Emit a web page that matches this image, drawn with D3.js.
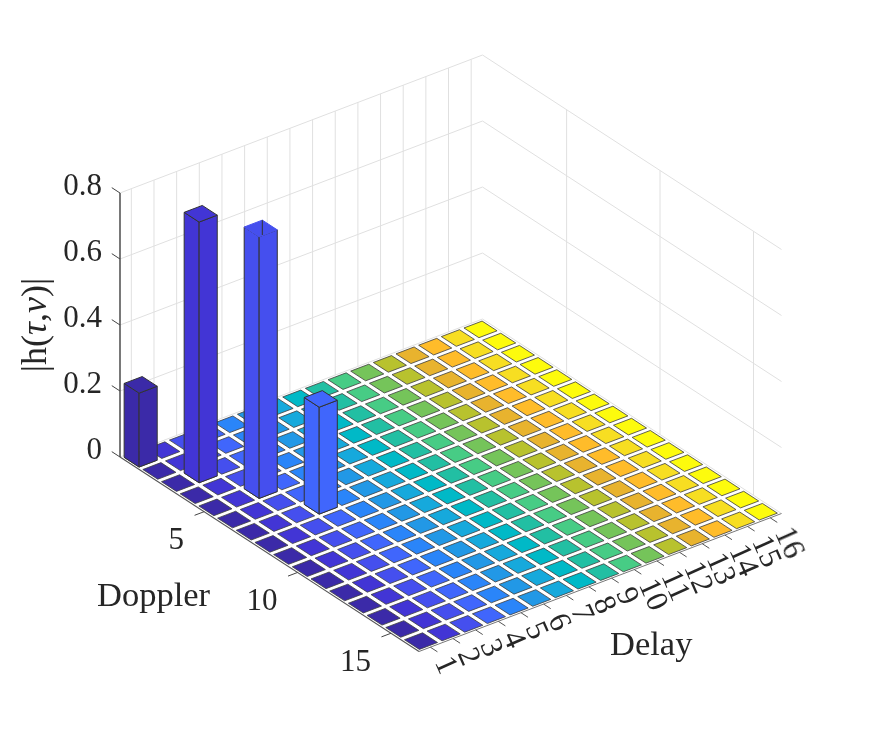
<!DOCTYPE html>
<html><head><meta charset="utf-8">
<style>
html,body{margin:0;padding:0;background:#fff}
svg{display:block}
text{font-family:"Liberation Serif","Times New Roman",serif;fill:#262626}
</style>
<script src="https://cdn.jsdelivr.net/npm/d3@7"></script>
</head><body>
<svg id="c" width="872" height="733"></svg>
<script>
const delayTicks=[1,2,3,4,5,6,7,8,9,10,11,12,13,14,15,16];
const dopplerValues=[1,2,3,4,5,6,7,8,9,10,11,12,13,14,15,16];
const dopplerTicks=[5,10,15];
const zTicks=[0,0.2,0.4,0.6,0.8];
const zTickLabels=["0","0.2","0.4","0.6","0.8"];
const barDelay=[1,2,3,4];
const barDoppler=[1,3,5,7];
const barHeight=[0.224,0.79,0.793,0.324];
const delayColors=["#3a2ca8","#4236d5","#4550ee","#3f66fc","#2b85f9","#2198e6","#17a9dc","#01b9c7","#22bfa3","#47cc85","#75c45a","#b8c22e","#e8b32d","#ffbc2c","#f7de22","#fdfb0e"];

const svg=d3.select("#c");
const blur=svg.append("defs").append("filter").attr("id","soft").attr("filterUnits","userSpaceOnUse")
  .attr("x",0).attr("y",0).attr("width",872).attr("height",733);
blur.append("feGaussianBlur").attr("stdDeviation",0.45);
const root=svg.append("g").attr("filter","url(#soft)");

// projection built from linear scales
const dX=d3.scaleLinear().domain([0.5,16.5]).range([0,362.5]);
const dY=d3.scaleLinear().domain([0.5,16.5]).range([0,-138]);
const vX=d3.scaleLinear().domain([0.5,16.5]).range([120,419]);
const vY=d3.scaleLinear().domain([0.5,16.5]).range([457,651.5]);
const zY=d3.scaleLinear().domain([0,0.8]).range([0,-264]);
const P=(u,v,z=0)=>[dX(u)+vX(v),dY(u)+vY(v)+zY(z)];
const line=d3.line();
const uMin=0.5,uMax=16.5,vMin=0.5,vMax=16.5,zMax=0.8;

const grid=root.append("g").attr("fill","none").attr("stroke","#e0e0e0").attr("stroke-width",1);
zTicks.forEach(z=>{
  grid.append("path").attr("d",line([P(uMin,vMin,z),P(uMax,vMin,z),P(uMax,vMax,z)]));
});
delayTicks.forEach(u=>grid.append("path").attr("d",line([P(u,vMin,0),P(u,vMin,zMax)])));
dopplerTicks.forEach(v=>grid.append("path").attr("d",line([P(uMax,v,0),P(uMax,v,zMax)])));

// floor cells
const half=0.4;
const cellG=root.append("g").attr("stroke","#3c3c3c").attr("stroke-width",0.8).attr("stroke-linejoin","round");
delayTicks.forEach((u,i)=>dopplerValues.forEach(v=>{
  cellG.append("path").attr("fill",delayColors[i])
   .attr("d",line([P(u-half,v-half),P(u+half,v-half),P(u+half,v+half),P(u-half,v+half)])+"Z");
}));

// axes
const axes=root.append("g").attr("fill","none");
axes.append("path").attr("stroke","#222").attr("stroke-width",1.2).attr("d",line([P(uMin,vMin,0),P(uMin,vMin,zMax)]));
axes.append("path").attr("stroke","#555").attr("stroke-width",1.1).attr("d",line([P(uMin,vMin,0),P(uMin,vMax,0)]));
axes.append("path").attr("stroke","#777").attr("stroke-width",1).attr("d",line([P(uMin,vMax,0),P(uMax,vMax,0)]));
zTicks.forEach(z=>axes.append("path").attr("stroke","#444").attr("stroke-width",1).attr("d",line([P(uMin,vMin,z),P(uMin,vMin-0.44,z)])));
dopplerTicks.forEach(v=>axes.append("path").attr("stroke","#444").attr("stroke-width",1).attr("d",line([P(uMin,v,0),P(uMin-0.42,v,0)])));
delayTicks.forEach(u=>axes.append("path").attr("stroke","#555").attr("stroke-width",1).attr("d",line([P(u,vMax,0),P(u,vMax+0.38,0)])));

// bars
const barG=root.append("g").attr("stroke","#333").attr("stroke-width",1).attr("stroke-linejoin","round");
barDelay.forEach((u,i)=>{
  const v=barDoppler[i],h=barHeight[i],col=delayColors[u-1];
  const poly=(pts)=>line(pts)+"Z";
  barG.append("path").attr("fill",col).attr("d",poly([P(u-half,v-half,0),P(u-half,v+half,0),P(u-half,v+half,h),P(u-half,v-half,h)]));
  barG.append("path").attr("fill",col).attr("d",poly([P(u-half,v+half,0),P(u+half,v+half,0),P(u+half,v+half,h),P(u-half,v+half,h)]));
  const top=barG.append("path").attr("fill",col).attr("d",poly([P(u-half,v-half,h),P(u+half,v-half,h),P(u+half,v+half,h),P(u-half,v+half,h)]));
  if(u===3){
    // this bar's top face has no outline in the original, only a short stub of the rear edge
    top.attr("stroke",col);
    barG.append("path").attr("fill","none").attr("d",line([P(u+half,v-half,h),P(u+half,v-half,h-0.045)]));
  }
});

// labels
const fs=31,labelFs=34.5;
const txt=root.append("g").attr("font-size",fs);
zTicks.forEach((z,i)=>{
  const p=P(uMin,vMin,z);
  txt.append("text").attr("x",p[0]-18).attr("y",p[1]+1.5).attr("text-anchor","end").text(zTickLabels[i]);
});
dopplerTicks.forEach(v=>{
  const p=P(uMin,v,0);
  txt.append("text").attr("x",p[0]-20).attr("y",p[1]+37.5).attr("text-anchor","end").text(v);
});
delayTicks.forEach(u=>{
  const p=P(u,vMax,0);
  const x=p[0]+13.5,y=p[1]+10.5;
  txt.append("text").attr("transform",`translate(${x},${y}) rotate(66)`).attr("text-anchor","start").attr("dy","0.33em").text(u);
});
txt.append("text").attr("font-size",labelFs).attr("x",97).attr("y",606).text("Doppler");
txt.append("text").attr("font-size",labelFs).attr("x",610).attr("y",655).text("Delay");
const yl=txt.append("text").attr("font-size",36).attr("transform","translate(46,325) rotate(-90)").attr("text-anchor","middle");
yl.append("tspan").text("|h(");
yl.append("tspan").attr("font-style","italic").text("τ");
yl.append("tspan").text(",");
yl.append("tspan").attr("font-style","italic").text("ν");
yl.append("tspan").text(")|");
</script>
</body></html>
